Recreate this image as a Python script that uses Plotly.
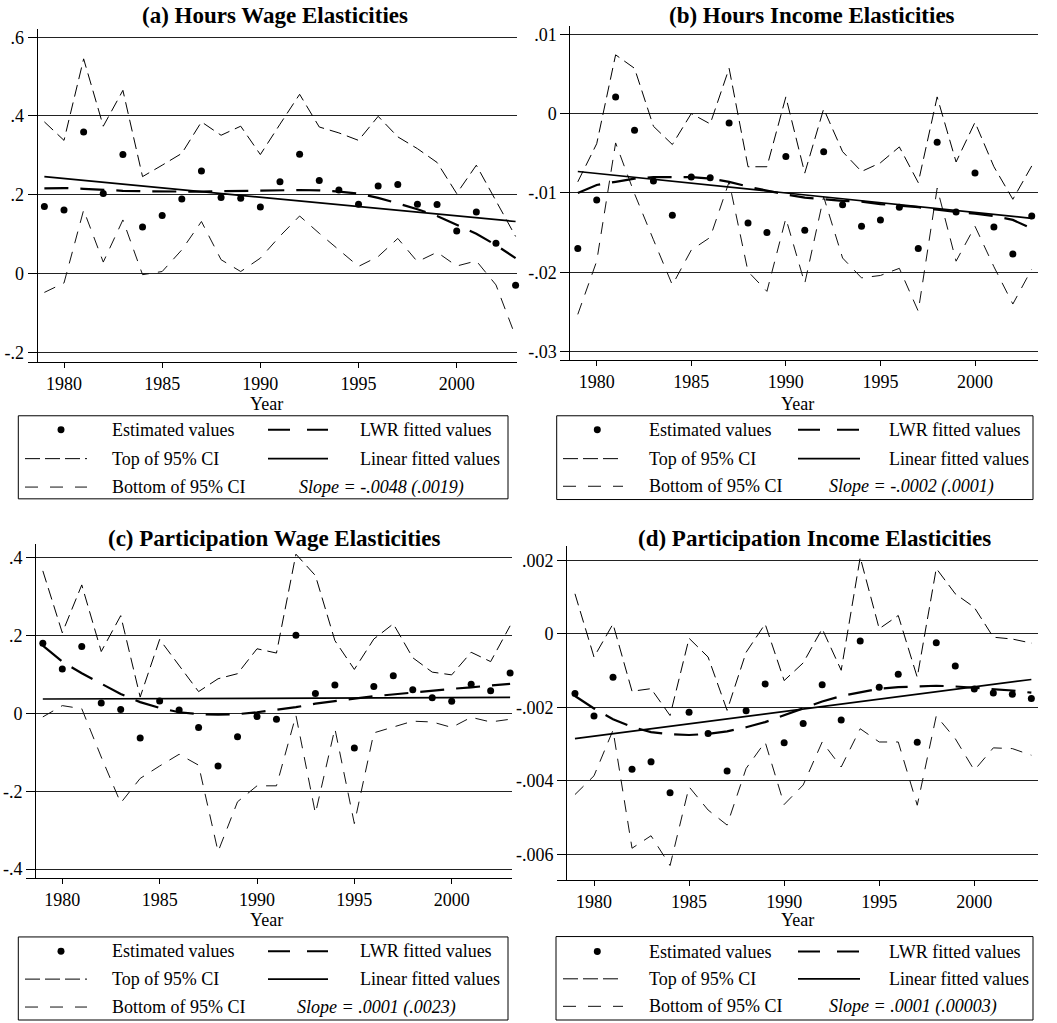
import plotly.graph_objects as go

# ---------------- data ----------------
years = list(range(1979, 2004))
lin_years = [1979, 2003]

a_est = [0.170, 0.161, 0.359, 0.203, 0.302, 0.118, 0.147, 0.189, 0.260, 0.193, 0.191, 0.169, 0.233,
         0.303, 0.236, 0.212, 0.176, 0.222, 0.226, 0.176, 0.175, 0.108, 0.156, 0.077, -0.030]
a_top = [0.385, 0.338, 0.545, 0.374, 0.465, 0.246, 0.275, 0.305, 0.385, 0.351, 0.374, 0.302, 0.379,
         0.455, 0.372, 0.357, 0.338, 0.399, 0.347, 0.317, 0.282, 0.203, 0.275, 0.186, 0.094]
a_bot = [-0.048, -0.024, 0.161, 0.029, 0.136, -0.003, 0.005, 0.060, 0.132, 0.035, 0.005, 0.039, 0.095,
         0.146, 0.102, 0.060, 0.018, 0.043, 0.089, 0.030, 0.054, 0.019, 0.032, -0.029, -0.160]
a_lwr = [0.216, 0.217, 0.215, 0.212, 0.210, 0.209, 0.208, 0.208, 0.208, 0.209, 0.210, 0.211, 0.212,
         0.212, 0.211, 0.208, 0.203, 0.192, 0.178, 0.163, 0.146, 0.124, 0.101, 0.072, 0.039]
a_lin = [0.246, 0.132]

b_est = [-0.0170, -0.0109, 0.0021, -0.0021, -0.0085, -0.0128, -0.0080, -0.0081, -0.0012, -0.0138,
         -0.0150, -0.0054, -0.0147, -0.0048, -0.0115, -0.0142, -0.0134, -0.0118, -0.0170, -0.0036,
         -0.0124, -0.0075, -0.0143, -0.0177, -0.0129]
b_top = [-0.0086, -0.0038, 0.0074, 0.0057, -0.0016, -0.0039, 0.0000, -0.0013, 0.0057, -0.0067,
         -0.0067, 0.0021, -0.0075, 0.0006, -0.0048, -0.0073, -0.0062, -0.0042, -0.0087, 0.0021,
         -0.0061, -0.0011, -0.0067, -0.0108, -0.0066]
b_bot = [-0.0253, -0.0186, -0.0037, -0.0101, -0.0159, -0.0216, -0.0172, -0.0156, -0.0086, -0.0199,
         -0.0224, -0.0132, -0.0214, -0.0105, -0.0182, -0.0207, -0.0204, -0.0195, -0.0249, -0.0094,
         -0.0186, -0.0142, -0.0193, -0.0240, -0.0196]
b_lwr = [-0.0100, -0.0090, -0.0086, -0.0082, -0.0080, -0.0080, -0.0080, -0.0082, -0.0086, -0.0092,
         -0.0097, -0.0102, -0.0106, -0.0108, -0.0110, -0.0111, -0.0114, -0.0116, -0.0118, -0.0121,
         -0.0124, -0.0126, -0.0129, -0.0134, -0.0145]
b_lin = [-0.0073, -0.0132]

c_est = [0.180, 0.114, 0.172, 0.027, 0.010, -0.063, 0.032, 0.009, -0.036, -0.135, -0.060, -0.008,
         -0.015, 0.201, 0.051, 0.073, -0.089, 0.069, 0.097, 0.061, 0.040, 0.031, 0.075, 0.058, 0.104]
c_top = [0.366, 0.207, 0.330, 0.159, 0.251, 0.042, 0.190, 0.123, 0.056, 0.089, 0.102, 0.166, 0.155,
         0.409, 0.354, 0.187, 0.113, 0.191, 0.230, 0.143, 0.106, 0.099, 0.157, 0.133, 0.225]
c_bot = [-0.009, 0.020, 0.012, -0.112, -0.230, -0.167, -0.135, -0.105, -0.133, -0.355, -0.227, -0.186,
         -0.186, -0.005, -0.257, -0.039, -0.283, -0.050, -0.035, -0.020, -0.022, -0.036, -0.010, -0.022,
         -0.015]
c_lwr = [0.174, 0.133, 0.103, 0.076, 0.050, 0.029, 0.014, 0.003, -0.002, -0.003, -0.002, 0.003, 0.009,
         0.016, 0.025, 0.032, 0.038, 0.044, 0.049, 0.053, 0.058, 0.063, 0.067, 0.072, 0.076]
c_lin = [0.037, 0.041]

d_est = [-0.00162, -0.00223, -0.00118, -0.00368, -0.00348, -0.00432, -0.00213, -0.00271, -0.00373,
         -0.00209, -0.00136, -0.00296, -0.00244, -0.00138, -0.00234, -0.00019, -0.00145, -0.00110,
         -0.00295, -0.00024, -0.00087, -0.00150, -0.00161, -0.00164, -0.00176]
d_top = [0.00109, -0.00063, 0.00027, -0.00156, -0.00149, -0.00222, -0.00012, -0.00063, -0.00208,
         -0.00050, 0.00027, -0.00127, -0.00079, 0.00014, -0.00099, 0.00208, 0.00014, 0.00050,
         -0.00118, 0.00178, 0.00109, 0.00072, -0.00009, -0.00014, -0.00025]
d_bot = [-0.00437, -0.00386, -0.00262, -0.00583, -0.00549, -0.00630, -0.00416, -0.00479, -0.00520,
         -0.00366, -0.00294, -0.00464, -0.00411, -0.00294, -0.00362, -0.00258, -0.00294, -0.00294,
         -0.00466, -0.00223, -0.00285, -0.00371, -0.00310, -0.00312, -0.00330]
d_lwr = [-0.00169, -0.00203, -0.00232, -0.00253, -0.00267, -0.00273, -0.00275, -0.00272, -0.00265,
         -0.00254, -0.00240, -0.00221, -0.00201, -0.00184, -0.00169, -0.00158, -0.00149, -0.00145,
         -0.00142, -0.00141, -0.00143, -0.00146, -0.00150, -0.00154, -0.00160]
d_lin = [-0.00285, -0.00124]

titles = ["(a) Hours Wage Elasticities", "(b) Hours Income Elasticities",
          "(c) Participation Wage Elasticities", "(d) Participation Income Elasticities"]
slopes = ["Slope = -.0048 (.0019)", "Slope = -.0002 (.0001)",
          "Slope = .0001 (.0023)", "Slope = .0001 (.00003)"]
x_ticks = [1980, 1985, 1990, 1995, 2000]
y_ticks = [[-0.2, 0, 0.2, 0.4, 0.6], [-0.03, -0.02, -0.01, 0, 0.01],
           [-0.4, -0.2, 0, 0.2, 0.4], [-0.006, -0.004, -0.002, 0, 0.002]]
y_ticktext = [["-.2", "0", ".2", ".4", ".6"], ["-.03", "-.02", "-.01", "0", ".01"],
              ["-.4", "-.2", "0", ".2", ".4"], ["-.006", "-.004", "-.002", "0", ".002"]]
legend_labels = ["Estimated values", "Top of 95% CI", "Bottom of 95% CI",
                 "LWR fitted values", "Linear fitted values"]

series = [
    (a_est, a_top, a_bot, a_lwr, a_lin),
    (b_est, b_top, b_bot, b_lwr, b_lin),
    (c_est, c_top, c_bot, c_lwr, c_lin),
    (d_est, d_top, d_bot, d_lwr, d_lin),
]

# ---------------- layout geometry (pixels) ----------------
W, H = 1057, 1023
geom = [
    dict(x1980=64.0, x2000=456.7, axis=36.7, right=516.6, top=28, bottom=362,
         yref=((0.6, 36.3), (-0.2, 352.3)), title=(275, 15), year=(266, 404),
         box=(18.3, 416, 508, 499.3), rows=(430, 459, 487.5), dot=61, t1=110,
         s=(25, 87), lwr=(268, 328), t2=358, slope=381),
    dict(x1980=596.7, x2000=975.0, axis=569.3, right=1038, top=25, bottom=360,
         yref=((0.01, 33.3), (-0.03, 351.7)), title=(812, 15), year=(797, 404),
         box=(556.7, 416, 1033, 500), rows=(430, 459, 486.7), dot=597.3, t1=646.7,
         s=(563, 623), lwr=(798, 860), t2=886.7, slope=911),
    dict(x1980=62.3, x2000=451.7, axis=35.0, right=512, top=545, bottom=880,
         yref=((0.4, 558.3), (-0.4, 870.7)), title=(274, 539), year=(266.7, 921.7),
         box=(18.3, 938.7, 508, 1022), rows=(953, 981, 1009), dot=61, t1=110,
         s=(25, 87), lwr=(268, 328), t2=358, slope=376),
    dict(x1980=594.0, x2000=974.3, axis=566.0, right=1038, top=546.7, bottom=881.7,
         yref=((0.002, 561), (-0.006, 856)), title=(814, 539), year=(797, 921.7),
         box=(556, 938.3, 1033, 1022), rows=(953.3, 980.7, 1008.3), dot=597.3, t1=646.7,
         s=(563, 623), lwr=(798, 860), t2=886.7, slope=912.5),
]

FONT = "Liberation Serif, Times New Roman, serif"
TOP_DASH = "12px,6px"
BOT_DASH = "12px,9px"
LWR_DASH = "24px,12px"


def fx(p):
    return p / W


def fy(p):
    return 1 - p / H


fig = go.Figure()
layout = dict(width=W, height=H, margin=dict(l=0, r=0, t=0, b=0), autosize=False,
              paper_bgcolor="white", plot_bgcolor="white", showlegend=False,
              font=dict(family=FONT, size=18, color="black"))
annotations = []
shapes = []

for i, (g, (est, top, bot, lwr, lin)) in enumerate(zip(geom, series)):
    n = "" if i == 0 else str(i + 1)
    xa, ya = "x" + n, "y" + n
    sx = (g["x2000"] - g["x1980"]) / 20.0
    left = g["axis"] - 9
    xr = [1980 + (left - g["x1980"]) / sx, 1980 + (g["right"] - g["x1980"]) / sx]
    (v1, p1), (v2, p2) = g["yref"]
    sy = (p2 - p1) / (v2 - v1)
    yr = [v1 + (g["bottom"] - p1) / sy, v1 + (g["top"] - p1) / sy]

    layout["xaxis" + n] = dict(
        domain=[fx(left), fx(g["right"])], range=xr, anchor=ya,
        showline=True, linecolor="black", linewidth=1, mirror=False,
        ticks="outside", ticklen=5, tickcolor="black", tickwidth=1,
        tickvals=x_ticks, ticktext=[str(v) for v in x_ticks],
        tickfont=dict(family=FONT, size=18, color="black"),
        showgrid=False, zeroline=False, fixedrange=True)
    layout["yaxis" + n] = dict(
        domain=[fy(g["bottom"]), fy(g["top"])], range=yr, anchor="free",
        position=fx(g["axis"]), overlaying=None,
        showline=True, linecolor="black", linewidth=1,
        ticks="outside", ticklen=9, tickcolor="black", tickwidth=1,
        tickvals=y_ticks[i], ticktext=y_ticktext[i],
        tickfont=dict(family=FONT, size=18, color="black"),
        showgrid=True, gridcolor="#222", gridwidth=1, zeroline=False, fixedrange=True)

    fig.add_trace(go.Scatter(x=years, y=top, mode="lines", xaxis=xa, yaxis=ya,
                             line=dict(color="black", width=1, dash=TOP_DASH), name=legend_labels[1]))
    fig.add_trace(go.Scatter(x=years, y=bot, mode="lines", xaxis=xa, yaxis=ya,
                             line=dict(color="#111", width=1, dash=BOT_DASH), name=legend_labels[2]))
    fig.add_trace(go.Scatter(x=years, y=lwr, mode="lines", xaxis=xa, yaxis=ya,
                             line=dict(color="black", width=2.2, dash=LWR_DASH), name=legend_labels[3]))
    fig.add_trace(go.Scatter(x=lin_years, y=lin, mode="lines", xaxis=xa, yaxis=ya,
                             line=dict(color="black", width=1.7), name=legend_labels[4]))
    fig.add_trace(go.Scatter(x=years, y=est, mode="markers", xaxis=xa, yaxis=ya, cliponaxis=False,
                             marker=dict(color="black", size=7, line=dict(width=0)),
                             name=legend_labels[0]))

    # title and axis title
    annotations.append(dict(text="<b>" + titles[i] + "</b>", x=fx(g["title"][0]), y=fy(g["title"][1]),
                            xref="paper", yref="paper", xanchor="center", yanchor="middle",
                            showarrow=False, font=dict(family=FONT, size=23, color="black")))
    annotations.append(dict(text="Year", x=fx(g["year"][0]), y=fy(g["year"][1]),
                            xref="paper", yref="paper", xanchor="center", yanchor="middle",
                            showarrow=False, font=dict(family=FONT, size=18, color="black")))

    # legend box
    bl, bt, br, bb = g["box"]
    shapes.append(dict(type="rect", xref="paper", yref="paper", x0=fx(bl), x1=fx(br),
                       y0=fy(bb), y1=fy(bt), line=dict(color="black", width=1), fillcolor="rgba(0,0,0,0)"))
    r1, r2, r3 = g["rows"]
    rad = 3.5
    shapes.append(dict(type="circle", xref="paper", yref="paper",
                       x0=fx(g["dot"] - rad), x1=fx(g["dot"] + rad), y0=fy(r1 + rad), y1=fy(r1 - rad),
                       fillcolor="black", line=dict(color="black", width=0)))
    shapes.append(dict(type="line", xref="paper", yref="paper", x0=fx(g["s"][0]), x1=fx(g["s"][1]),
                       y0=fy(r2), y1=fy(r2), line=dict(color="black", width=1, dash="15px,5px")))
    shapes.append(dict(type="line", xref="paper", yref="paper", x0=fx(g["s"][0]), x1=fx(g["s"][1]),
                       y0=fy(r3), y1=fy(r3), line=dict(color="#111", width=1, dash="13px,12px")))
    shapes.append(dict(type="line", xref="paper", yref="paper", x0=fx(g["lwr"][0]), x1=fx(g["lwr"][1]),
                       y0=fy(r1), y1=fy(r1), line=dict(color="black", width=2, dash="22px,17px")))
    shapes.append(dict(type="line", xref="paper", yref="paper", x0=fx(g["lwr"][0]), x1=fx(g["lwr"][1]),
                       y0=fy(r2), y1=fy(r2), line=dict(color="black", width=1.7)))
    for txt, xx, yy in [(legend_labels[0], g["t1"], r1), (legend_labels[1], g["t1"], r2),
                        (legend_labels[2], g["t1"], r3), (legend_labels[3], g["t2"], r1),
                        (legend_labels[4], g["t2"], r2)]:
        annotations.append(dict(text=txt, x=fx(xx), y=fy(yy), xref="paper", yref="paper",
                                xanchor="left", yanchor="middle", showarrow=False,
                                font=dict(family=FONT, size=18, color="black")))
    annotations.append(dict(text="<i>" + slopes[i] + "</i>", x=fx(g["slope"]), y=fy(r3),
                            xref="paper", yref="paper", xanchor="center", yanchor="middle",
                            showarrow=False, font=dict(family=FONT, size=18, color="black")))

for k in list(layout.keys()):
    if k.startswith("yaxis"):
        layout[k].pop("overlaying", None)

layout["annotations"] = annotations
layout["shapes"] = shapes
fig.update_layout(**layout)
fig.write_html("out.html")
